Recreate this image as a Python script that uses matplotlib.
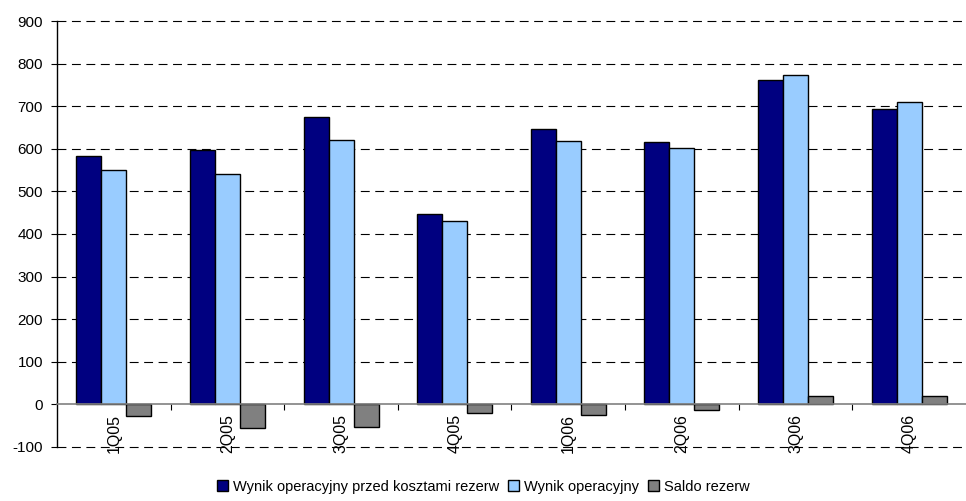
import matplotlib.pyplot as plt
import numpy as np

plt.rcParams['font.family'] = ['Liberation Sans', 'DejaVu Sans']
plt.rcParams['axes.unicode_minus'] = False

quarters = ['1Q05', '2Q05', '3Q05', '4Q05', '1Q06', '2Q06', '3Q06', '4Q06']
wynik_przed = [584, 598, 675, 448, 647, 615, 761, 694]
wynik_oper = [551, 541, 621, 430, 618, 601, 774, 711]
saldo = [-27, -56, -53, -20, -24, -14, 19, 19]

names = ['Wynik operacyjny przed kosztami rezerw', 'Wynik operacyjny', 'Saldo rezerw']
colors = ['#000080', '#99CCFF', '#808080']

fig = plt.figure(figsize=(9.66, 5.01), dpi=100)
ax = fig.add_axes([0.059, 0.108, 0.941, 0.85])

x = np.arange(len(quarters))
w = 0.22
for i, (vals, c, n) in enumerate(zip([wynik_przed, wynik_oper, saldo], colors, names)):
    ax.bar(x + (i - 1) * w, vals, w, color=c, edgecolor='black', linewidth=1, label=n, zorder=3)

ax.set_xlim(-0.5, len(quarters) - 0.5)
ax.set_ylim(-100, 900)
ax.set_yticks(range(-100, 901, 100))
for v in range(-100, 901, 100):
    if v != 0:
        ax.axhline(v, color='black', linewidth=0.8, dashes=(8, 5), zorder=1, clip_on=False)

ax.spines['top'].set_visible(False)
ax.spines['right'].set_visible(False)
ax.spines['left'].set_linewidth(1)
ax.spines['bottom'].set_position(('data', 0))
ax.spines['bottom'].set_color('#808080')
ax.spines['bottom'].set_linewidth(1.2)
ax.spines['bottom'].set_zorder(4)

ax.set_xticks(x[:-1] + 0.5)
ax.set_xticklabels([])
ax.set_xticks(x, minor=True)
ax.set_xticklabels(quarters, minor=True, rotation=90, fontsize=11.5)
ax.tick_params(axis='x', which='major', direction='out', length=4, color='black')
ax.tick_params(axis='x', which='minor', length=0, pad=7)
ax.tick_params(axis='y', direction='out', length=4, labelsize=11, pad=6)

fig.legend(loc='lower center', bbox_to_anchor=(0.5, -0.012), ncol=3, frameon=False,
           fontsize=10.5, handlelength=0.8, handleheight=0.8, handletextpad=0.3,
           columnspacing=0.6)

fig.savefig('out.png', dpi=100)
